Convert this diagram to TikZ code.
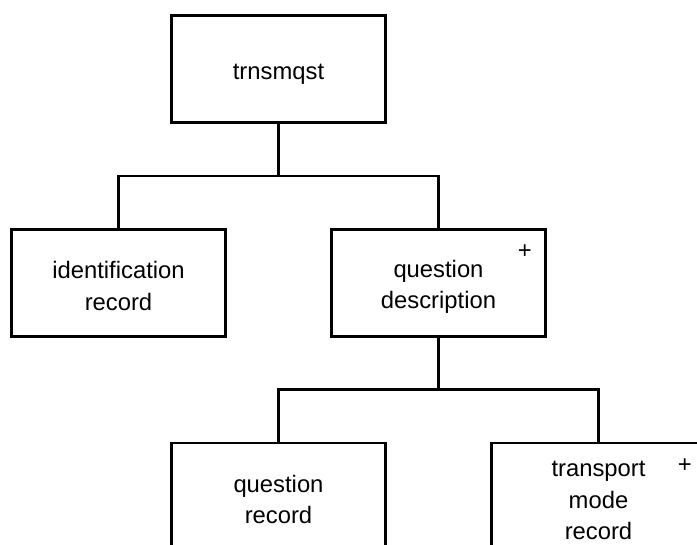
\documentclass[tikz,border=0pt]{standalone}
\usepackage{fontspec}
\setmainfont{Liberation Sans}
\newcommand\lnstrut{\rule[-1.5pt]{0pt}{26.5pt}}
\tikzset{
  x=1pt, y=1pt,
  recbox/.style={draw, line width=2.6pt, minimum width=214pt, minimum height=107pt,
    inner sep=0pt, align=center, font=\fontsize{23.8}{31.5}\selectfont},
  plusmark/.style={inner sep=0pt, font=\fontsize{23.8}{31.5}\selectfont},
  link/.style={line width=2.6pt}
}
\begin{document}
\begin{tikzpicture}
\useasboundingbox (0,0) rectangle (697,-545);
\clip (0,0) rectangle (697,-545);
\node[recbox] (T)  at (278.5,-69)    {\lnstrut trnsmqst};
\node[recbox] (ID) at (118.5,-283)   {\lnstrut identification\\\lnstrut record};
\node[recbox] (QD) at (438.5,-283)   {\lnstrut question\\\lnstrut description};
\node[recbox] (QR) at (278.5,-496.5) {\lnstrut question\\\lnstrut record};
\node[recbox] (TM) at (598.5,-496.5) {\lnstrut transport\\\lnstrut mode\\\lnstrut record};
\node[plusmark] (QDp) at ([xshift=-22pt,yshift=-23.8pt]QD.north east) {+};
\node[plusmark] (TMp) at ([xshift=-22pt,yshift=-23.8pt]TM.north east) {+};
\coordinate (b1) at (278.5,-176);
\coordinate (b2) at (438.5,-389.5);
\draw[link] (T.south) -- (b1);
\draw[link] (ID.north) |- (b1) -| (QD.north);
\draw[link] (QD.south) -- (b2);
\draw[link] (QR.north) |- (b2) -| (TM.north);
\end{tikzpicture}
\end{document}
